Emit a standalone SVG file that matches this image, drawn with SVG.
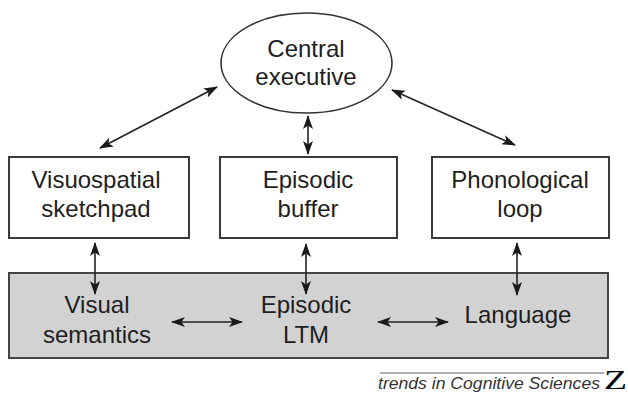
<svg xmlns="http://www.w3.org/2000/svg" width="628" height="399" viewBox="0 0 628 399">
<defs>
<style>
.box{fill:#fff;stroke:#3a3a3a;stroke-width:2}
.lbl{font-family:"Liberation Sans",Arial,sans-serif;font-size:24px;fill:#1e1e1e;text-anchor:middle}
.con{stroke:#222;stroke-width:1.6;fill:none;marker-start:url(#ah);marker-end:url(#ah)}
</style>
<marker id="ah" viewBox="0 0 14 10" refX="13" refY="5" markerWidth="14" markerHeight="10" markerUnits="userSpaceOnUse" orient="auto-start-reverse">
<path d="M0,0 L14,5 L0,10 L3.5,5 Z" fill="#1a1a1a"/>
</marker>
</defs>
<rect width="628" height="399" fill="#fff"/>
<g id="ltm">
<rect x="9" y="273" width="599" height="85" fill="#d2d2d2" stroke="#444" stroke-width="2"/>
<text class="lbl"><tspan x="97" y="313">Visual</tspan><tspan x="97" y="343">semantics</tspan></text>
<text class="lbl"><tspan x="306" y="313">Episodic</tspan><tspan x="306" y="343">LTM</tspan></text>
<text class="lbl" x="518" y="323">Language</text>
</g>
<g id="central">
<ellipse cx="306.5" cy="63" rx="85.5" ry="50" fill="#fff" stroke="#333" stroke-width="1.6"/>
<text class="lbl"><tspan x="306" y="57">Central</tspan><tspan x="306" y="85">executive</tspan></text>
</g>
<g id="visuo">
<rect class="box" x="9" y="157" width="180" height="81"/>
<text class="lbl"><tspan x="96" y="188">Visuospatial</tspan><tspan x="96" y="217">sketchpad</tspan></text>
</g>
<g id="buffer">
<rect class="box" x="220" y="157" width="177" height="81"/>
<text class="lbl"><tspan x="308" y="188">Episodic</tspan><tspan x="308" y="217">buffer</tspan></text>
</g>
<g id="phono">
<rect class="box" x="432" y="157" width="177" height="81"/>
<text class="lbl"><tspan x="520" y="188">Phonological</tspan><tspan x="520" y="217">loop</tspan></text>
</g>
<g id="connectors">
<line class="con" x1="100" y1="148" x2="217" y2="87"/>
<line class="con" x1="392" y1="90" x2="515" y2="145"/>
<line class="con" x1="308" y1="116" x2="308" y2="154"/>
<line class="con" x1="95" y1="243" x2="95" y2="294"/>
<line class="con" x1="306" y1="244" x2="306" y2="294"/>
<line class="con" x1="517" y1="243" x2="517" y2="295"/>
<line class="con" x1="172" y1="322" x2="242" y2="322"/>
<line class="con" x1="378" y1="322" x2="448" y2="322"/>
</g>
<g id="footer">
<line x1="380" y1="373" x2="604" y2="373" stroke="#999" stroke-width="1.5"/>
<text x="378" y="389" font-family="'Liberation Sans',Arial,sans-serif" font-style="italic" font-size="16" fill="#333" textLength="222" lengthAdjust="spacingAndGlyphs">trends in Cognitive Sciences</text>
<text x="604" y="389" font-family="'Liberation Serif','Times New Roman',serif" font-size="28" fill="#000" textLength="23" lengthAdjust="spacingAndGlyphs">Z</text>
</g>
</svg>
